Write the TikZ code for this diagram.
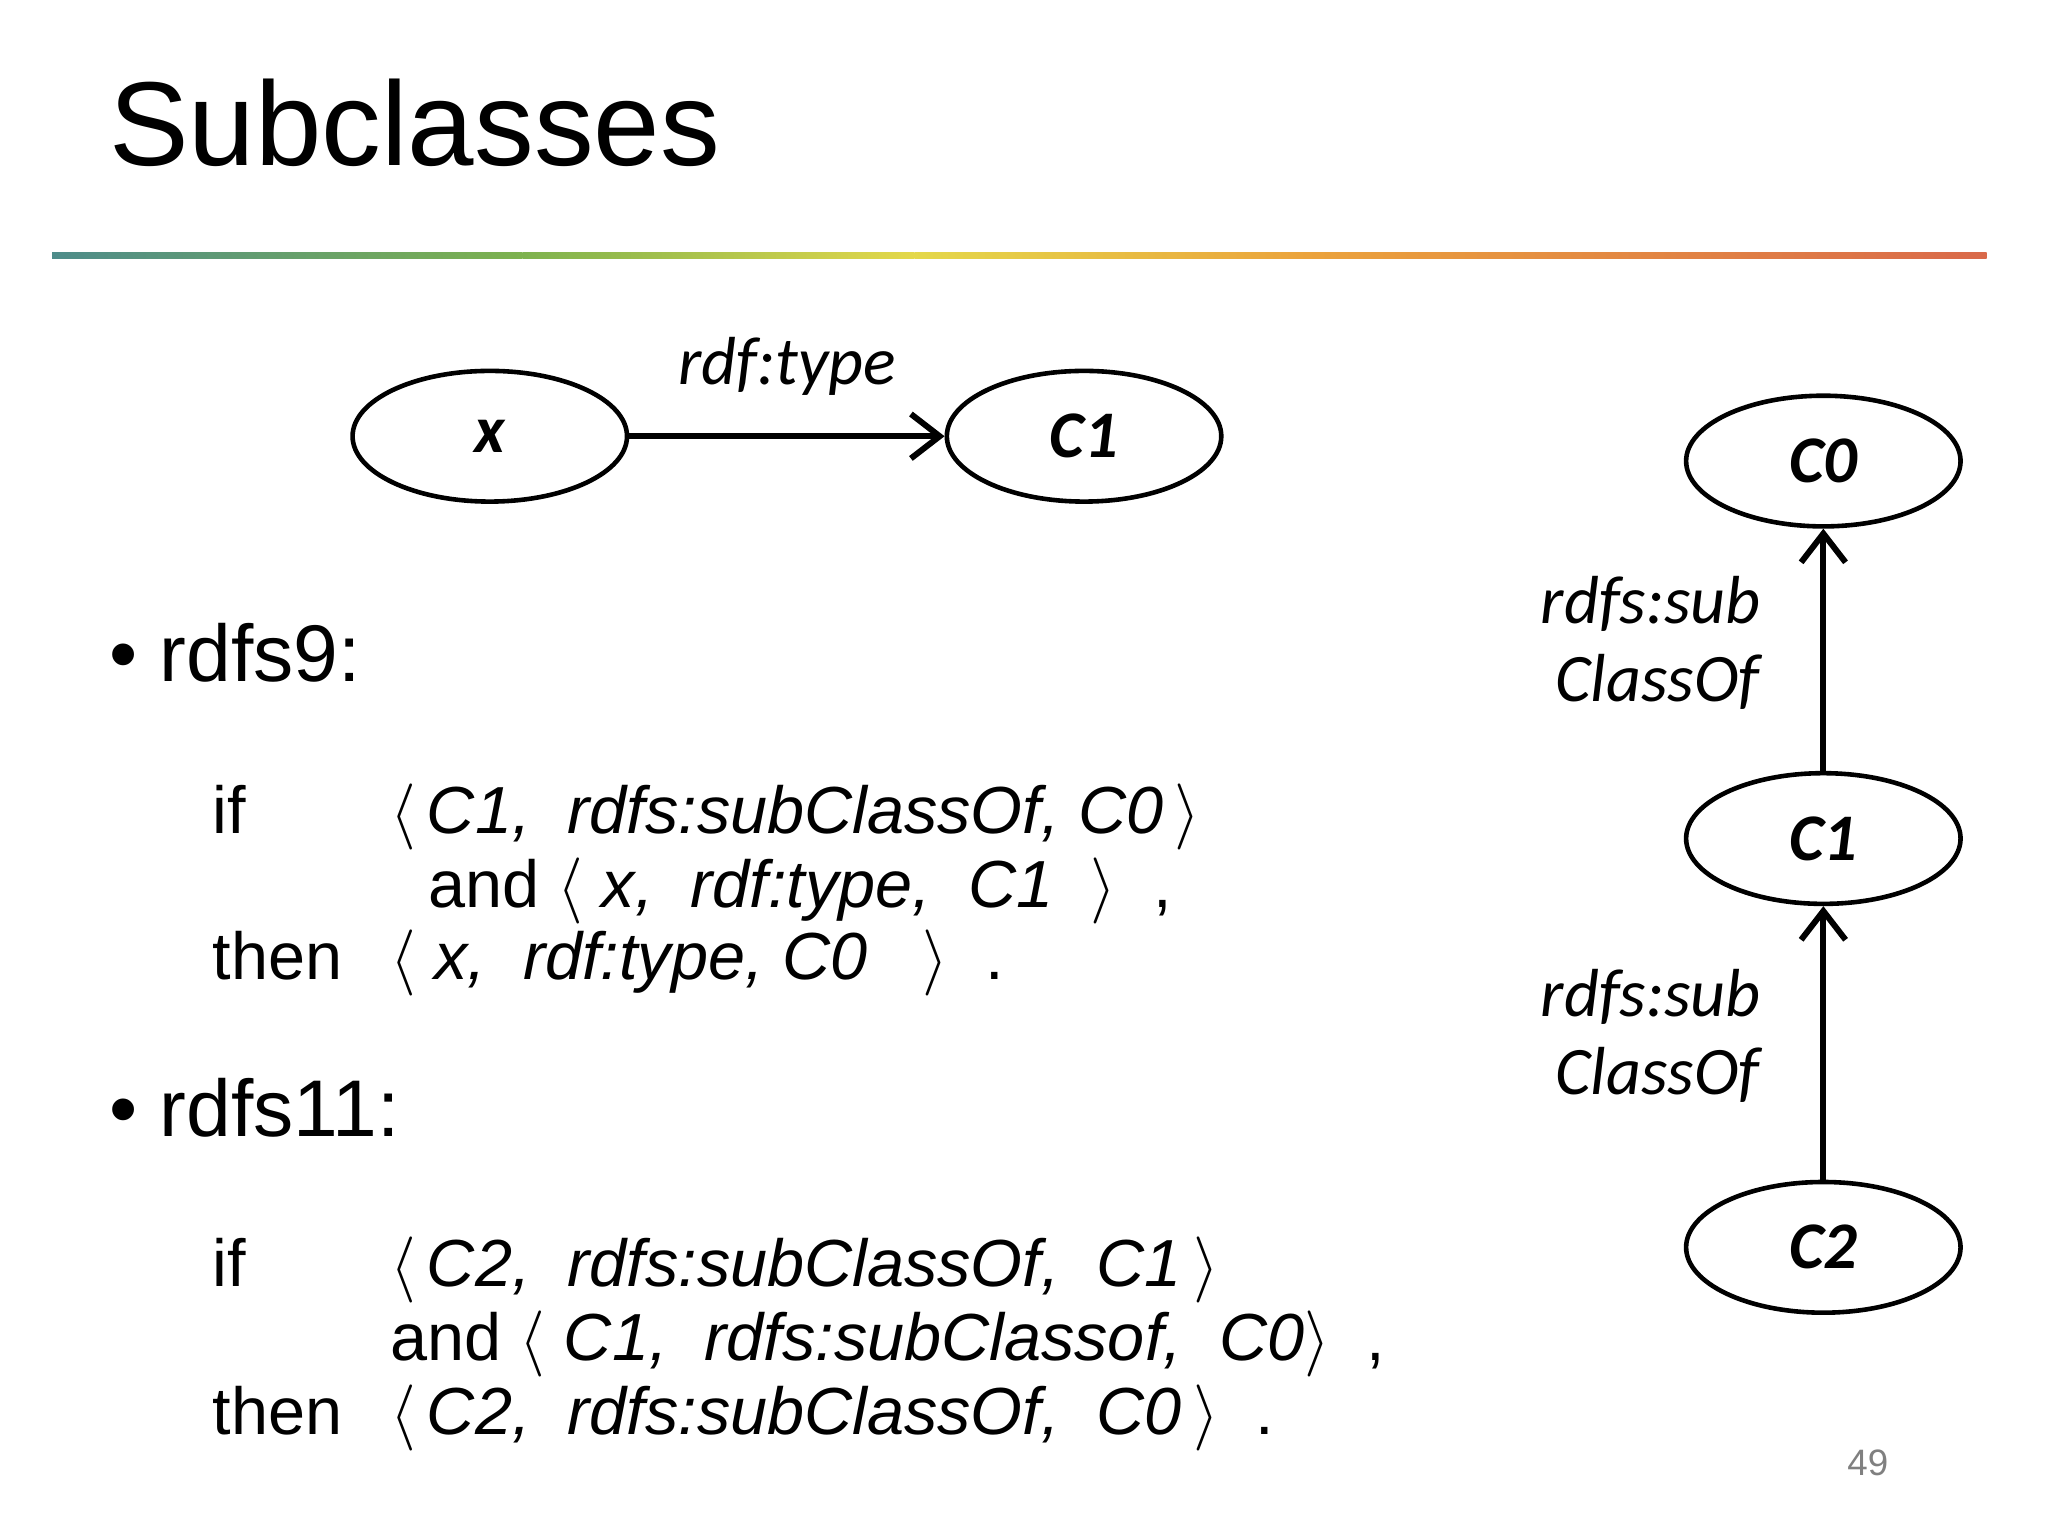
\documentclass[tikz,border=0pt]{standalone}
\usepackage{fontspec}
\setmainfont{Liberation Sans}
\newfontfamily\calib{Carlito}
\usetikzlibrary{arrows.meta,shapes.geometric}
\begin{document}
\begin{tikzpicture}[x=0.01cm,y=-0.01cm,
  ell/.style={draw,line width=1pt,ellipse,minimum width=2.1cm,minimum height=1.0cm,font=\calib\bfseries\itshape\fontsize{14.5}{16}\selectfont},
  arr/.style={line width=1.3pt,-{Straight Barb[length=2.2mm,width=3.4mm]}},
  elab/.style={font=\calib\itshape\fontsize{14.8}{16}\selectfont,anchor=base west,inner sep=0pt},
  body/.style={font=\fontsize{14.5}{18}\selectfont,anchor=base west,inner sep=0pt},
  bul/.style={font=\fontsize{17.5}{20}\selectfont,anchor=base west,inner sep=0pt}]
\useasboundingbox (0,0) rectangle (1568,1176);
\node[anchor=base west,inner sep=0pt,font=\fontsize{26}{30}\selectfont] (title) at (83,127) {Subclasses};
% gradient rule
\definecolor{g1}{HTML}{4E8C8A}\definecolor{g2}{HTML}{7DB24E}\definecolor{g3}{HTML}{E4D84A}
\definecolor{g4}{HTML}{EBA33C}\definecolor{g5}{HTML}{D9694A}
\shade[left color=g1,right color=g2] (40,193) rectangle (400,198);
\shade[left color=g2,right color=g3] (400,193) rectangle (700,198);
\shade[left color=g3,right color=g4] (700,193) rectangle (1000,198);
\shade[left color=g4,right color=g5] (1000,193) rectangle (1521,198);
% top graph
\node[ell] (x) at (375,334) {x};
\node[ell] (c1a) at (830,334) {C1};
\draw[arr] (x) -- node[above=5pt,font=\calib\itshape\fontsize{14.8}{16}\selectfont] (lt) {rdf:type} (c1a);
% right graph
\node[ell] (c0) at (1396,353) {C0};
\node[ell] (c1) at (1396,642) {C1};
\node[ell] (c2) at (1396,955) {C2};
\draw[arr] (c1) -- (c0);
\draw[arr] (c2) -- (c1);
\node[elab] (l1a) at (1179,477) {rdfs:sub};
\node[elab] (l1b) at (1190,537) {ClassOf};
\node[elab] (l2a) at (1179,778) {rdfs:sub};
\node[elab] (l2b) at (1190,838) {ClassOf};
% rules
\node[bul] (b1) at (83,522) {\textbullet\ rdfs9:};
\node[body] (i1) at (162,638) {if};
\node[body] (r1) at (298,638) {$\langle$\,\textit{C1,\ \ rdfs:subClassOf, C0}\,$\rangle$};
\node[body] (r2) at (327,695) {and $\langle$\ \textit{x,\ \ rdf:type,\ \ C1}\ \ $\rangle$\ \ ,};
\node[body] (t1) at (162,750) {then};
\node[body] (r3) at (298,750) {$\langle$\ \textit{x,\ \ rdf:type, C0}\ \ \ $\rangle$\ \ .};
\node[bul] (b2) at (83,870) {\textbullet\ rdfs11:};
\node[body] (i2) at (162,985) {if};
\node[body] (s1) at (298,985) {$\langle$\,\textit{C2,\ \ rdfs:subClassOf,\ \ C1}\,$\rangle$};
\node[body] (s2) at (298,1042) {and $\langle$\ \textit{C1,\ \ rdfs:subClassof,\ \ C0}$\rangle$\ \ ,};
\node[body] (t2) at (162,1098) {then};
\node[body] (s3) at (298,1098) {$\langle$\,\textit{C2,\ \ rdfs:subClassOf,\ \ C0}\,$\rangle$\ \ .};
\node[anchor=base,inner sep=0pt,text=gray,font=\fontsize{8}{9}\selectfont] (pg) at (1430,1130) {49};
\end{tikzpicture}
\end{document}
